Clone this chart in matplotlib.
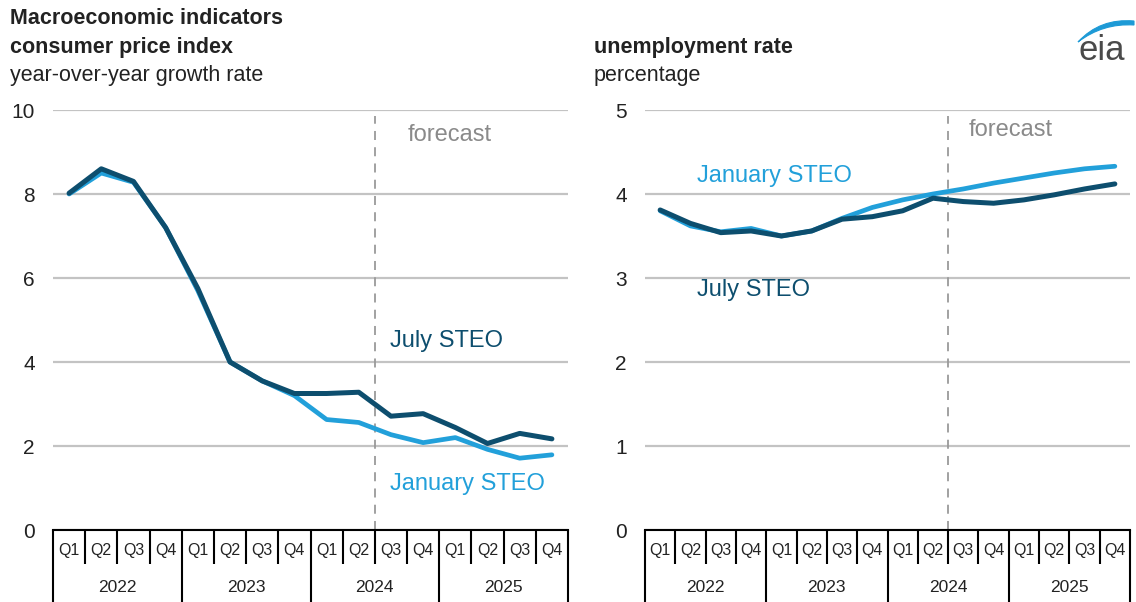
import matplotlib
matplotlib.use('Agg')
import matplotlib.pyplot as plt
from matplotlib.path import Path
from matplotlib.patches import PathPatch

plt.rcParams['font.family'] = ['Liberation Sans', 'DejaVu Sans']

W, H = 1136, 602

quarters = ['Q1', 'Q2', 'Q3', 'Q4'] * 4
years = ['2022', '2023', '2024', '2025']

# consumer price index, year-over-year growth rate (%)
cpi_july = [8.02, 8.6, 8.3, 7.2, 5.75, 4.0, 3.55, 3.25, 3.25, 3.28, 2.71, 2.77, 2.44, 2.06, 2.3, 2.17]
cpi_jan = [8.0, 8.5, 8.28, 7.2, 5.7, 4.0, 3.55, 3.2, 2.63, 2.56, 2.27, 2.08, 2.2, 1.92, 1.71, 1.79]

# unemployment rate (%)
unemp_july = [3.81, 3.65, 3.54, 3.56, 3.5, 3.56, 3.7, 3.73, 3.8, 3.95, 3.91, 3.89, 3.93, 3.99, 4.06, 4.12]
unemp_jan = [3.8, 3.62, 3.55, 3.59, 3.5, 3.56, 3.71, 3.84, 3.93, 4.0, 4.06, 4.13, 4.19, 4.25, 4.3, 4.33]

forecast_start = 9.5  # between 2024 Q2 and Q3

DARK = '#0d4e6e'
LIGHT = '#22a0da'
GRID = '#c3c3c3'


def px(x, y):
    return x / W, 1 - y / H


def draw_panel(ax, jan, jul, ymax, ystep, labels):
    x = list(range(len(quarters)))
    ax.plot(x, jan, color=LIGHT, lw=3.4, solid_joinstyle='round', solid_capstyle='round', zorder=3)
    ax.plot(x, jul, color=DARK, lw=3.6, solid_joinstyle='round', solid_capstyle='round', zorder=4)

    ax.set_xlim(-0.5, len(quarters) - 0.5)
    ax.set_ylim(0, ymax)
    ax.set_yticks(range(0, ymax + 1, ystep))
    ax.set_xticks([])
    ax.tick_params(axis='y', length=0, pad=13, labelsize=15, labelcolor='#222222')
    ax.grid(axis='y', color=GRID, lw=1.6, zorder=0)
    ax.set_axisbelow(True)
    for s in ['top', 'right', 'left']:
        ax.spines[s].set_visible(False)
    ax.spines['bottom'].set_color('black')
    ax.spines['bottom'].set_linewidth(1.5)

    ax.axvline(forecast_start, ymin=0, ymax=0.985, color='#9a9a9a', lw=1.3,
               dashes=(5, 4), zorder=2)

    # two-level category axis: quarters, then years
    tr = ax.get_xaxis_transform()
    for k in range(len(quarters) + 1):
        bottom = -0.172 if k % 4 == 0 else -0.08
        ax.plot([k - 0.5, k - 0.5], [0, bottom], transform=tr, color='black',
                lw=1.5, clip_on=False, solid_capstyle='butt')
    for i, q in enumerate(quarters):
        ax.text(i, -0.05, q, transform=tr, ha='center', va='center', fontsize=11.5,
                color='#222222')
    for j, yr in enumerate(years):
        ax.text(4 * j + 1.5, -0.136, yr, transform=tr, ha='center', va='center',
                fontsize=12.5, color='#222222')

    for txt, lx, ly, col in labels:
        ax.text(lx, ly, txt, ha='left', va='center', fontsize=17, color=col, zorder=5)


fig = plt.figure(figsize=(W / 100, H / 100), dpi=100)

ax1 = fig.add_axes([53 / W, 72 / H, 515 / W, 420 / H])
draw_panel(ax1, cpi_jan, cpi_july, 10, 2, [
    ('July STEO', 9.97, 4.5, DARK),
    ('January STEO', 9.97, 1.1, LIGHT),
    ('forecast', 10.53, 9.4, '#8a8a8a'),
])

ax2 = fig.add_axes([645 / W, 72 / H, 485 / W, 420 / H])
draw_panel(ax2, unemp_jan, unemp_july, 5, 1, [
    ('January STEO', 1.22, 4.21, LIGHT),
    ('July STEO', 1.22, 2.86, DARK),
    ('forecast', 10.16, 4.76, '#8a8a8a'),
])

# panel titles
fig.text(*px(10, 18), 'Macroeconomic indicators', fontsize=15.5, fontweight='bold',
         color='#222222', va='center', ha='left')
fig.text(*px(10, 47), 'consumer price index', fontsize=15.5, fontweight='bold',
         color='#222222', va='center', ha='left')
fig.text(*px(10, 75), 'year-over-year growth rate', fontsize=15.5,
         color='#222222', va='center', ha='left')
fig.text(*px(594, 47), 'unemployment rate', fontsize=15.5, fontweight='bold',
         color='#222222', va='center', ha='left')
fig.text(*px(594, 75), 'percentage', fontsize=15.5,
         color='#222222', va='center', ha='left')

# eia logo
fig.text(*px(1102, 50), 'eia', fontsize=25, color='#4a4a4a', ha='center', va='center')
pts = [px(1078, 42), px(1100, 18), px(1134, 21),
       px(1134, 25), px(1103, 23), px(1078, 42)]
codes = [Path.MOVETO, Path.CURVE3, Path.CURVE3, Path.LINETO, Path.CURVE3, Path.CURVE3]
fig.add_artist(PathPatch(Path(pts, codes), transform=fig.transFigure,
                         facecolor='#1d9ad6', edgecolor='#1d9ad6', lw=0.8))

fig.savefig('out.png', dpi=100)
